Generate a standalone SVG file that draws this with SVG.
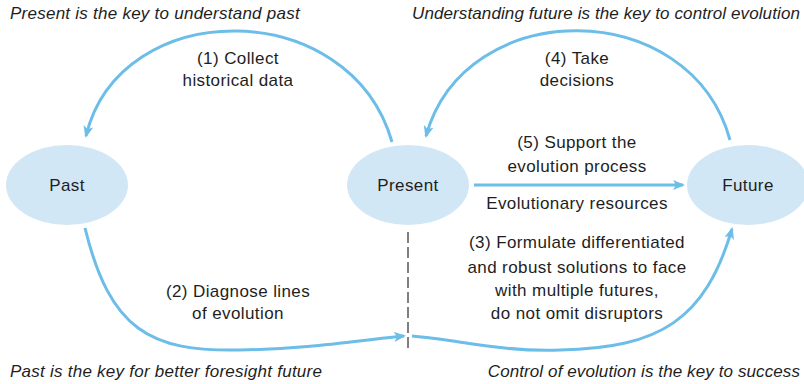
<svg xmlns="http://www.w3.org/2000/svg" width="804" height="384" viewBox="0 0 804 384">
  <style>
    .node { fill: #d2e7f6; stroke: none; }
    .label { font-family: "Liberation Sans", Arial, sans-serif; font-size: 17px; letter-spacing: 0.4px; fill: #1e1e1e; text-anchor: middle; }
    .motto { font-family: "Liberation Sans", Arial, sans-serif; font-size: 17px; letter-spacing: 0.25px; font-style: italic; fill: #1e1e1e; }
    .motto.right { text-anchor: end; letter-spacing: 0.1px; }
    .flow { fill: none; stroke: #6cbde8; stroke-width: 3; }
    .divider { fill: none; stroke: #555; stroke-width: 1.5; stroke-dasharray: 11 4; }
  </style>
  <defs>
    <marker id="head" viewBox="0 0 12 10" refX="10" refY="5" markerWidth="12" markerHeight="10" markerUnits="userSpaceOnUse" orient="auto">
      <path d="M0,0 L12,5 L0,10 L3,5 z" fill="#6cbde8"/>
    </marker>
  </defs>
  <rect width="804" height="384" fill="#ffffff"/>

  <!-- mottos in the corners -->
  <text class="motto" x="10" y="19">Present is the key to understand past</text>
  <text class="motto right" x="800" y="19">Understanding future is the key to control evolution</text>
  <text class="motto" x="10" y="377">Past is the key for better foresight future</text>
  <text class="motto right" x="800" y="377">Control of evolution is the key to success</text>

  <!-- connectors -->
  <g id="connectors">
    <path class="flow" d="M392,142 C350,-5 120,-5 86,136" marker-end="url(#head)"/>
    <path class="flow" d="M730,140 C690,-5 465,-5 426,136" marker-end="url(#head)"/>
    <line class="flow" x1="474" y1="185" x2="683" y2="185" marker-end="url(#head)"/>
    <path class="flow" d="M85,228 C110,330 150,352 240,350 C310,349 360,340 404,336" marker-end="url(#head)"/>
    <path class="flow" d="M412,336 C460,340 500,352 560,350 C660,348 705,320 732,229" marker-end="url(#head)"/>
    <line class="divider" x1="408" y1="232" x2="408" y2="352"/>
  </g>

  <!-- connector labels -->
  <g id="connector-labels">
    <text class="label" x="238" y="64">(1) Collect</text>
    <text class="label" x="238" y="86">historical data</text>
    <text class="label" x="577" y="64">(4) Take</text>
    <text class="label" x="577" y="86">decisions</text>
    <text class="label" x="577" y="148">(5) Support the</text>
    <text class="label" x="577" y="172">evolution process</text>
    <text class="label" x="577" y="209">Evolutionary resources</text>
    <text class="label" x="577" y="248">(3) Formulate differentiated</text>
    <text class="label" x="577" y="273">and robust solutions to face</text>
    <text class="label" x="577" y="296">with multiple futures,</text>
    <text class="label" x="577" y="319">do not omit disruptors</text>
    <text class="label" x="238" y="297">(2) Diagnose lines</text>
    <text class="label" x="238" y="319">of evolution</text>
  </g>

  <!-- nodes -->
  <g id="past">
    <ellipse class="node" cx="67" cy="185" rx="61" ry="40"/>
    <text class="label" x="67" y="191">Past</text>
  </g>
  <g id="present">
    <ellipse class="node" cx="408" cy="185" rx="61" ry="40"/>
    <text class="label" x="408" y="191">Present</text>
  </g>
  <g id="future">
    <ellipse class="node" cx="748" cy="185" rx="61" ry="40"/>
    <text class="label" x="748" y="191">Future</text>
  </g>
</svg>
